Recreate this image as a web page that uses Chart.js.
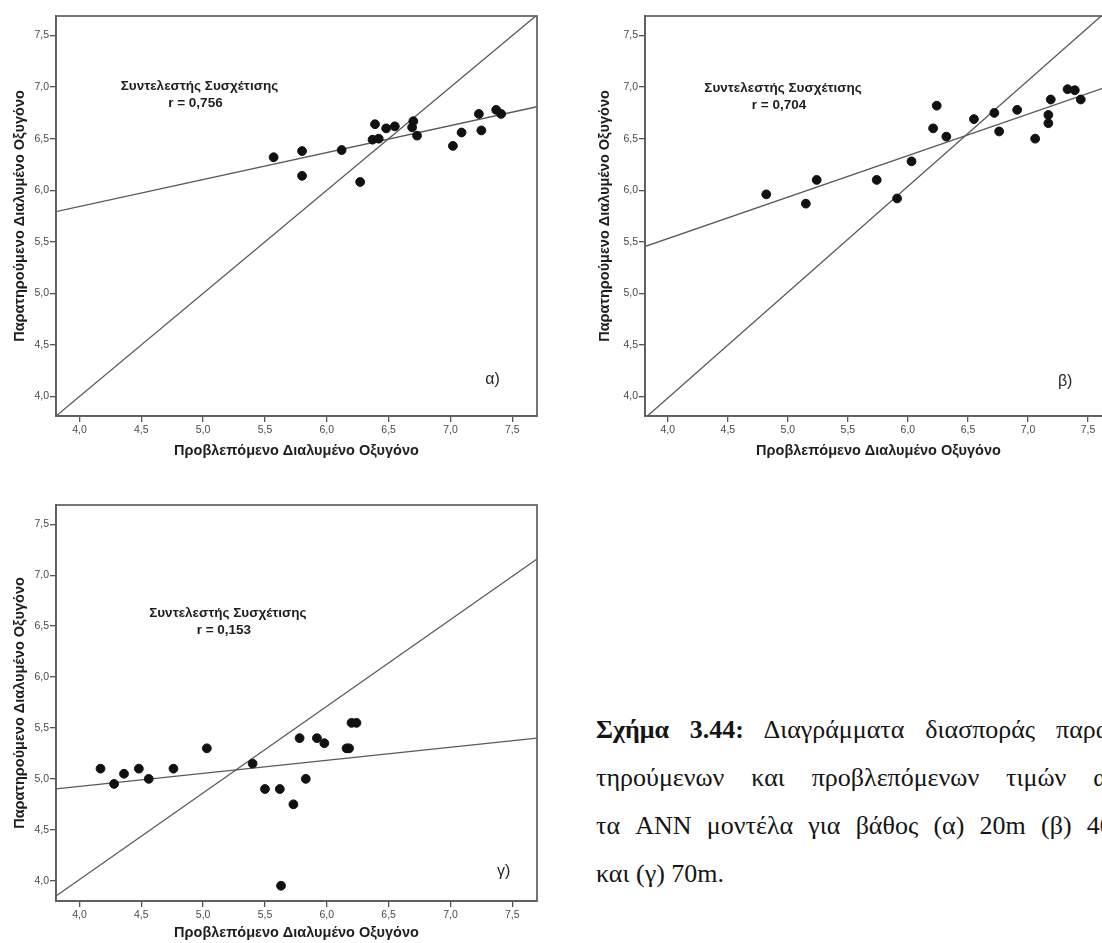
<!DOCTYPE html>
<html>
<head>
<meta charset="utf-8">
<script src="https://cdn.jsdelivr.net/npm/chart.js@4.4.1/dist/chart.umd.min.js"></script>
<style>
  html, body { margin: 0; padding: 0; background: #fff; overflow: hidden; }
  #page { position: relative; width: 1102px; height: 943px; overflow: hidden; background: #fff; }
  canvas { position: absolute; }
  #caption {
    position: absolute; left: 596px; top: 706px;
    font-family: "Liberation Serif", "Times New Roman", serif;
    font-size: 26px; line-height: 48px; color: #151515;
  }
  #caption .just { width: 537px; text-align: justify; text-align-last: justify; }
  #caption .first { width: 522px; }
  #caption b { font-weight: bold; }
</style>
</head>
<body>
<div id="page">
  <canvas id="chartA" width="545" height="463" style="left:0px;top:0px"></canvas>
  <canvas id="chartB" width="531" height="463" style="left:589px;top:0px"></canvas>
  <canvas id="chartG" width="545" height="455" style="left:0px;top:489px"></canvas>
  <div id="caption">
    <div class="just first"><b>Σχήμα 3.44:</b> Διαγράμματα διασποράς παρα-</div>
    <div class="just">τηρούμενων και προβλεπόμενων τιμών από</div>
    <div class="just">τα ANN μοντέλα για βάθος (α) 20m (β) 40m</div>
    <div>και (γ) 70m.</div>
  </div>
</div>
<script>
/* =========================
   ΔΕΔΟΜΕΝΑ
========================= */
const tickValues = [4.0, 4.5, 5.0, 5.5, 6.0, 6.5, 7.0, 7.5];
const xTitle = "Προβλεπόμενο Διαλυμένο Οξυγόνο";
const yTitle = "Παρατηρούμενο Διαλυμένο Οξυγόνο";

// (α) 20m
const predA = [5.57, 5.80, 5.80, 6.12, 6.27, 6.37, 6.39, 6.42, 6.48, 6.55, 6.70, 6.69, 6.73, 7.02, 7.09, 7.23, 7.25, 7.37, 7.41];
const obsA  = [6.32, 6.38, 6.14, 6.39, 6.08, 6.49, 6.64, 6.50, 6.60, 6.62, 6.67, 6.61, 6.53, 6.43, 6.56, 6.74, 6.58, 6.78, 6.74];
const diagAx = [3.80, 7.70];
const diagAy = [3.80, 7.70];
const fitAx = [3.80, 7.70];
const fitAy = [5.79, 6.81];
const noteA = ["Συντελεστής Συσχέτισης", "r = 0,756"];

// (β) 40m
const predB = [4.82, 5.15, 5.24, 5.74, 5.91, 6.03, 6.21, 6.24, 6.32, 6.55, 6.72, 6.76, 6.91, 7.06, 7.17, 7.17, 7.19, 7.33, 7.39, 7.44];
const obsB  = [5.96, 5.87, 6.10, 6.10, 5.92, 6.28, 6.60, 6.82, 6.52, 6.69, 6.75, 6.57, 6.78, 6.50, 6.73, 6.65, 6.88, 6.98, 6.97, 6.88];
const diagBx = [3.82, 7.61];
const diagBy = [3.80, 7.69];
const fitBx = [3.80, 7.70];
const fitBy = [5.45, 7.02];
const noteB = ["Συντελεστής Συσχέτισης", "r = 0,704"];

// (γ) 70m
const predG = [4.17, 4.28, 4.36, 4.48, 4.56, 4.76, 5.03, 5.40, 5.50, 5.62, 5.63, 5.73, 5.78, 5.83, 5.92, 5.98, 6.16, 6.18, 6.20, 6.24];
const obsG  = [5.10, 4.95, 5.05, 5.10, 5.00, 5.10, 5.30, 5.15, 4.90, 4.90, 3.95, 4.75, 5.40, 5.00, 5.40, 5.35, 5.30, 5.30, 5.55, 5.55];
const diagGx = [3.80, 7.70];
const diagGy = [3.84, 7.16];
const fitGx = [3.80, 7.70];
const fitGy = [4.90, 5.40];
const noteG = ["Συντελεστής Συσχέτισης", "r = 0,153"];

/* =========================
   ΒΟΗΘΗΤΙΚΑ
========================= */
function pares(xs, ys) {
  return xs.map((x, i) => ({ x: x, y: ys[i] }));
}

function comma(v) {
  return Number(v).toFixed(1).replace(".", ",");
}

const FONT = "'Liberation Sans', Arial, sans-serif";

// πλαίσιο + κείμενα μέσα στο διάγραμμα
const framePlugin = {
  id: "frame",
  afterDatasetsDraw(chart) {
    const a = chart.chartArea;
    const ctx = chart.ctx;
    ctx.save();
    ctx.strokeStyle = "#5e5e5e";
    ctx.lineWidth = 1.7;
    ctx.strokeRect(a.left, a.top, a.right - a.left, a.bottom - a.top);
    ctx.restore();
  },
  afterDraw(chart) {
    const o = chart.options.plugins.frame;
    if (!o) return;
    const ctx = chart.ctx;
    const sx = chart.scales.x, sy = chart.scales.y;
    ctx.save();
    ctx.fillStyle = "#1e1e1e";
    ctx.textAlign = "center";
    ctx.textBaseline = "middle";
    ctx.font = "bold 13.5px " + FONT;
    const px = sx.getPixelForValue(o.noteAt[0]);
    const py = sy.getPixelForValue(o.noteAt[1]);
    ctx.fillText(o.note[0], px, py);
    ctx.fillText(o.note[1], px - 4, py + 17);
    ctx.font = "16px " + FONT;
    ctx.fillStyle = "#262626";
    ctx.fillText(o.tag, sx.getPixelForValue(o.tagAt[0]), sy.getPixelForValue(o.tagAt[1]));
    ctx.restore();
  }
};

function makeChart(id, cfg) {
  const ctx = document.getElementById(id).getContext("2d");
  return new Chart(ctx, {
    type: "scatter",
    data: {
      datasets: [
        {
          data: pares(cfg.pred, cfg.obs),
          backgroundColor: "#111",
          borderColor: "#111",
          pointRadius: 4.4,
          pointHoverRadius: 4.4
        },
        {
          type: "line",
          data: pares(cfg.diagX, cfg.diagY),
          borderColor: "#595959",
          borderWidth: 1.3,
          pointRadius: 0,
          fill: false
        },
        {
          type: "line",
          data: pares(cfg.fitX, cfg.fitY),
          borderColor: "#595959",
          borderWidth: 1.3,
          pointRadius: 0,
          fill: false
        }
      ]
    },
    options: {
      responsive: false,
      animation: false,
      devicePixelRatio: 1,
      layout: { padding: { top: 16, right: 8, left: 0, bottom: 0 } },
      plugins: {
        legend: { display: false },
        tooltip: { enabled: false },
        frame: { note: cfg.note, noteAt: cfg.noteAt, tag: cfg.tag, tagAt: cfg.tagAt }
      },
      scales: {
        x: {
          type: "linear",
          min: cfg.xMin,
          max: cfg.xMax,
          afterBuildTicks: s => { s.ticks = tickValues.map(v => ({ value: v })); },
          afterFit: s => { s.height = cfg.xAxisH; },
          grid: { drawOnChartArea: false, drawTicks: true, tickLength: 6, color: "#555", lineWidth: 1.3 },
          border: { display: true, color: "#5e5e5e", width: 1.7 },
          ticks: {
            padding: 2,
            color: "#4a4a4a",
            font: { family: FONT, size: 10.5 },
            callback: v => comma(v)
          },
          title: {
            display: true,
            text: xTitle,
            color: "#1e1e1e",
            padding: { top: 0, bottom: cfg.xTitlePad },
            font: { family: FONT, size: 14.5, weight: "bold" }
          }
        },
        y: {
          type: "linear",
          min: cfg.yMin,
          max: cfg.yMax,
          afterBuildTicks: s => { s.ticks = tickValues.map(v => ({ value: v })); },
          afterFit: s => { s.width = 56; },
          grid: { drawOnChartArea: false, drawTicks: true, tickLength: 6, color: "#555", lineWidth: 1.3 },
          border: { display: true, color: "#5e5e5e", width: 1.7 },
          ticks: {
            padding: 1,
            color: "#4a4a4a",
            font: { family: FONT, size: 10.5 },
            callback: v => comma(v)
          },
          title: {
            display: true,
            text: yTitle,
            color: "#1e1e1e",
            padding: { top: cfg.yTitlePad, bottom: 0 },
            font: { family: FONT, size: 14.5, weight: "bold" }
          }
        }
      }
    },
    plugins: [framePlugin]
  });
}

/* =========================
   ΔΙΑΓΡΑΜΜΑΤΑ
========================= */
makeChart("chartA", {
  pred: predA, obs: obsA, diagX: diagAx, diagY: diagAy, fitX: fitAx, fitY: fitAy,
  xMin: 3.81, xMax: 7.70, yMin: 3.81, yMax: 7.69, xAxisH: 47, xTitlePad: 3, yTitlePad: 11,
  note: noteA, noteAt: [4.97, 7.01], tag: "α)", tagAt: [7.34, 4.16]
});

makeChart("chartB", {
  pred: predB, obs: obsB, diagX: diagBx, diagY: diagBy, fitX: fitBx, fitY: fitBy,
  xMin: 3.81, xMax: 7.70, yMin: 3.81, yMax: 7.69, xAxisH: 47, xTitlePad: 3, yTitlePad: 7,
  note: noteB, noteAt: [4.96, 6.99], tag: "β)", tagAt: [7.31, 4.14]
});

makeChart("chartG", {
  pred: predG, obs: obsG, diagX: diagGx, diagY: diagGy, fitX: fitGx, fitY: fitGy,
  xMin: 3.81, xMax: 7.70, yMin: 3.80, yMax: 7.69, xAxisH: 43, xTitlePad: 2, yTitlePad: 11,
  note: noteG, noteAt: [5.20, 6.63], tag: "γ)", tagAt: [7.43, 4.09]
});
</script>
</body>
</html>
